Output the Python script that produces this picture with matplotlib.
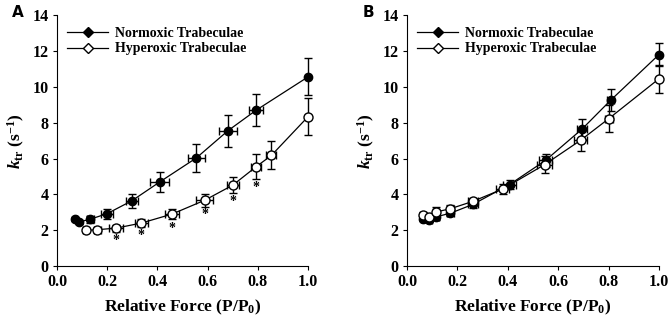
import matplotlib.pyplot as plt
from matplotlib.lines import Line2D

plt.rcParams['font.family'] = 'Liberation Serif'
plt.rcParams['font.weight'] = 'bold'
plt.rcParams['mathtext.fontset'] = 'custom'
plt.rcParams['mathtext.rm'] = 'Liberation Serif:bold'
plt.rcParams['mathtext.it'] = 'Liberation Serif:bold:italic'
plt.rcParams['mathtext.bf'] = 'Liberation Serif:bold'

# Painel A
a_norm_x = [0.073, 0.088, 0.133, 0.199, 0.299, 0.409, 0.555, 0.681, 0.794, 1.0]
a_norm_y = [2.64, 2.46, 2.62, 2.92, 3.65, 4.69, 6.03, 7.55, 8.70, 10.55]
a_norm_xerr = [0.005, 0.005, 0.015, 0.023, 0.023, 0.038, 0.035, 0.035, 0.027, 0.0]
a_norm_yerr = [0.10, 0.10, 0.20, 0.28, 0.39, 0.57, 0.76, 0.88, 0.91, 1.03]

a_hyp_x = [0.114, 0.161, 0.236, 0.336, 0.458, 0.588, 0.701, 0.794, 0.854, 1.0]
a_hyp_y = [1.99, 2.03, 2.12, 2.40, 2.90, 3.67, 4.52, 5.55, 6.17, 8.33]
a_hyp_xerr = [0.010, 0.015, 0.027, 0.027, 0.027, 0.033, 0.025, 0.020, 0.020, 0.0]
a_hyp_yerr = [0.10, 0.12, 0.19, 0.22, 0.28, 0.37, 0.47, 0.68, 0.78, 1.02]

# asteriscos (diferenca significativa)
a_star_x = [0.236, 0.336, 0.458, 0.588, 0.701, 0.794]
a_star_y = [1.45, 1.70, 2.10, 2.88, 3.60, 4.40]

# Painel B
b_norm_x = [0.065, 0.089, 0.113, 0.172, 0.261, 0.407, 0.550, 0.695, 0.808, 1.0]
b_norm_y = [2.64, 2.58, 2.74, 2.95, 3.44, 4.55, 5.90, 7.65, 9.25, 11.80]
b_norm_xerr = [0.008, 0.010, 0.012, 0.015, 0.020, 0.025, 0.025, 0.020, 0.015, 0.0]
b_norm_yerr = [0.12, 0.12, 0.15, 0.18, 0.20, 0.25, 0.37, 0.55, 0.60, 0.62]

b_hyp_x = [0.065, 0.086, 0.115, 0.172, 0.261, 0.380, 0.546, 0.689, 0.801, 1.0]
b_hyp_y = [2.87, 2.74, 3.02, 3.20, 3.61, 4.30, 5.66, 7.02, 8.23, 10.45]
b_hyp_xerr = [0.008, 0.010, 0.012, 0.015, 0.020, 0.025, 0.030, 0.025, 0.015, 0.0]
b_hyp_yerr = [0.12, 0.12, 0.25, 0.20, 0.20, 0.30, 0.47, 0.58, 0.75, 0.78]

label_norm = "Normoxic Trabeculae"
label_hyp = "Hyperoxic Trabeculae"

fig = plt.figure(figsize=(6.72, 3.21), dpi=100)
axA = fig.add_axes([0.0848, 0.171, 0.3735, 0.782])
axB = fig.add_axes([0.6057, 0.171, 0.375, 0.782])

def desenha(ax, nx, ny, nxe, nye, hx, hy, hxe, hye):
    for serie, cor, tam, z in [((nx, ny, nxe, nye), 'black', 6, 3), ((hx, hy, hxe, hye), 'white', 6.5, 4)]:
        x, y, xe, ye = serie
        art = ax.errorbar(x, y, xerr=xe, yerr=ye, color='black', lw=0.9, elinewidth=1.0,
                          capsize=3, capthick=1.0, marker='o', ms=tam, mfc=cor, mec='black',
                          mew=1.0, zorder=z)
        for a in art.get_children():
            a.set_clip_on(False)
        art[0].set_clip_on(False)
        for c in art[1]:
            c.set_clip_on(False)
        for b in art[2]:
            b.set_clip_on(False)
    ax.set_xlim(0, 1.0)
    ax.set_ylim(0, 14)
    ax.set_xticks([0.0, 0.2, 0.4, 0.6, 0.8, 1.0])
    ax.set_xticklabels(['0.0', '0.2', '0.4', '0.6', '0.8', '1.0'])
    ax.set_yticks(range(0, 15, 2))
    ax.spines['top'].set_visible(False)
    ax.spines['right'].set_visible(False)
    ax.tick_params(direction='out', length=3, width=0.8, labelsize=11.5, pad=3)
    for t in ax.get_xticklabels() + ax.get_yticklabels():
        t.set_fontweight('bold')
    ax.set_xlabel(r'Relative Force (P/P$_0$)', fontsize=12.5, fontweight='bold', labelpad=5)
    ax.set_ylabel(r'$k_{\mathrm{tr}}$ (s$^{\mathrm{-1}}$)', fontsize=12.5, fontweight='bold', labelpad=4)
    handles = [Line2D([], [], color='black', lw=0.9, marker='D', ms=5, mfc='black', mec='black'),
               Line2D([], [], color='black', lw=0.9, marker='D', ms=5, mfc='white', mec='black')]
    ax.legend(handles, [label_norm, label_hyp], loc='upper left', bbox_to_anchor=(0.0, 0.99),
              frameon=False, handlelength=3.0, handletextpad=0.5,
              labelspacing=0.15, borderaxespad=0.3, prop={'weight': 'bold', 'size': 10})

desenha(axA, a_norm_x, a_norm_y, a_norm_xerr, a_norm_yerr, a_hyp_x, a_hyp_y, a_hyp_xerr, a_hyp_yerr)
desenha(axB, b_norm_x, b_norm_y, b_norm_xerr, b_norm_yerr, b_hyp_x, b_hyp_y, b_hyp_xerr, b_hyp_yerr)

for sx, sy in zip(a_star_x, a_star_y):
    axA.text(sx, sy, '*', ha='center', va='center', fontsize=10, fontweight='bold')

fig.text(0.018, 0.962, 'A', fontsize=11, fontweight='bold', family='DejaVu Sans', va='center')
fig.text(0.540, 0.962, 'B', fontsize=11, fontweight='bold', family='DejaVu Sans', va='center')

fig.savefig('out.png', dpi=100)
